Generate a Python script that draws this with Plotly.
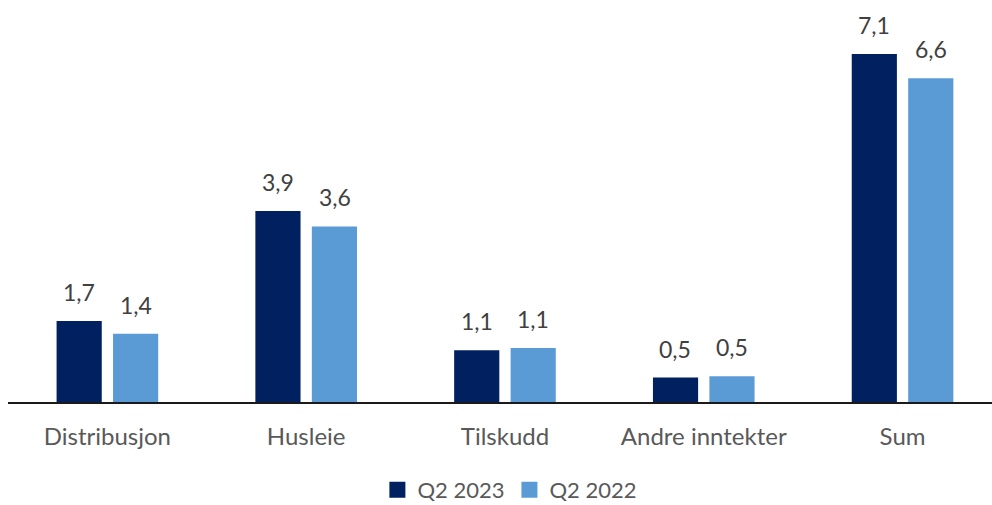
import plotly.graph_objects as go

categories = ["Distribusjon", "Husleie", "Tilskudd", "Andre inntekter", "Sum"]
q2_2023 = [1.66, 3.92, 1.06, 0.50, 7.14]
q2_2022 = [1.40, 3.60, 1.11, 0.53, 6.64]
series_names = ["Q2 2023", "Q2 2022"]
colors = ["#002060", "#5B9BD5"]

FONT = "Lato"
fig = go.Figure()
for name, vals, col in zip(series_names, [q2_2023, q2_2022], colors):
    fig.add_trace(go.Bar(x=categories, y=vals, name=name, marker_color=col,
                         marker_line_width=0, showlegend=False))
    fig.add_trace(go.Scatter(x=[None], y=[None], mode="markers", name=name,
                             marker=dict(symbol="square", size=16, color=col)))

annotations = []
for vals, shift in [(q2_2023, -28.4), (q2_2022, 28.4)]:
    for c, v in zip(categories, vals):
        annotations.append(dict(x=c, y=v, xref="x", yref="y", text=f"{v:.1f}".replace(".", ","),
                                showarrow=False, yanchor="bottom", xshift=shift, yshift=13,
                                font=dict(family=FONT, size=23, color="#404040")))

fig.update_layout(
    width=992, height=505,
    margin=dict(l=8, r=0, t=10, b=103, autoexpand=False),
    paper_bgcolor="white", plot_bgcolor="white",
    barmode="group", bargap=0.432, bargroupgap=0.2,
    annotations=annotations,
    legend=dict(orientation="h", xref="container", yref="container",
                x=0.514, xanchor="center", y=0.03, yanchor="middle",
                font=dict(family=FONT, size=22, color="#595959"), itemwidth=30,
                tracegroupgap=0),
    xaxis=dict(range=[-0.5, 4.45], showline=True, linecolor="#1a1a1a", linewidth=2,
               ticks="outside", ticklen=12, tickcolor="rgba(0,0,0,0)", automargin=False,
               tickfont=dict(family=FONT, size=24, color="#595959"), showgrid=False),
    yaxis=dict(range=[0, 8.04], visible=False, showgrid=False, zeroline=False),
)
fig.write_html("out.html")
